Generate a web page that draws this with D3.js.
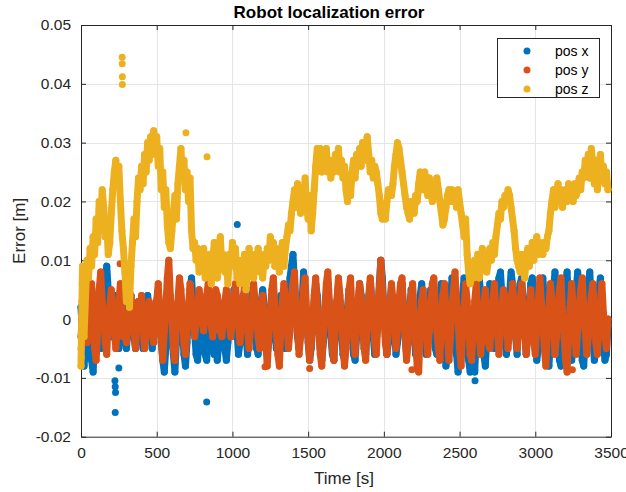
<!DOCTYPE html>
<html><head><meta charset="utf-8">
<script src="https://cdn.jsdelivr.net/npm/d3@7/dist/d3.min.js"></script>
<style>body{margin:0;background:#fff}svg{display:block}</style>
</head><body>
<svg id="chart" width="626" height="492"></svg>
<script>
// ---------- data ----------
const seriesNames = ["pos x", "pos y", "pos z"];
const seriesColors = ["#0072BD", "#D95319", "#EDB120"];
const sampleStep = 10;           // seconds between samples, starting at t = 0
const xTicks = [0, 500, 1000, 1500, 2000, 2500, 3000, 3500];
const yTicks = [-0.02, -0.01, 0, 0.01, 0.02, 0.03, 0.04, 0.05];
const yTickLabels = ["-0.02", "-0.01", "0", "0.01", "0.02", "0.03", "0.04", "0.05"];

// errors in millimetres, one value every 10 s
const posX = [
  2,-3,-8,-5,0,3,-2,-7,-9,-4,  1,4,-1,-5,-3,3,7,9,5,1,
  -3,2,4,0,-4,-5,-1,3,1,-3,  -5,-2,2,4,0,-3,-5,-1,3,2,
  -2,-5,-3,1,4,2,-2,-5,-3,1,  3,5,1,-4,-7,-9,-5,0,4,2,
  -2,-6,-9,-4,1,5,3,-2,-6,-8,  -4,1,5,7,3,-2,-6,-7,-3,2,
  -2,-4,-6,-7,-3,0,2,-3,-6,-5,  -7,-4,-1,1,-2,-5,-7,-4,0,-3,
  1,5,3,-2,-6,-4,0,4,2,-3,  -6,-3,1,5,3,-2,-5,-6,-1,3,
  5,2,-3,-6,-4,0,4,3,-1,-5,  -3,1,4,2,-2,-5,-1,3,7,9,
  11,6,1,-3,-5,-2,3,8,5,0,  -4,-7,-5,-1,3,6,4,-1,-5,-7,
  -4,0,4,6,2,-3,-6,-7,-2,3,  6,3,-2,-6,-7,-3,2,5,3,-2,
  -6,-7,-3,2,6,4,-1,-5,-6,-2,  3,6,2,-3,-6,-4,1,6,10,7,
  2,-3,-6,-4,1,5,3,-2,-6,-4,  0,4,6,2,-3,-6,-4,1,5,3,
  -2,-6,-4,0,4,6,2,-3,-6,-2,  2,5,3,-2,-5,-6,-1,4,6,1,
  -4,-8,-6,-1,3,7,4,-2,-6,-9,  -5,0,4,7,3,-3,-7,-9,-4,1,
  -9,-3,3,7,4,-1,-6,-8,-3,2,  6,3,0,-5,-2,4,7,8,4,1,
  -4,-6,-1,4,8,6,2,-3,-6,3,  6,7,3,-2,-6,-3,2,6,7,4,
  -3,-7,-5,0,4,7,3,-2,-6,-8,  -4,1,5,8,4,-2,-7,-8,-3,2,
  6,8,3,-3,-7,-5,0,5,8,4,  -2,-7,-8,-3,2,6,8,3,-3,-7,
  -5,0,5,7,2,-4,-7,-6,-1
];
const posY = [
  -3,1,-1,2,-4,-2,3,6,1,-5,  -7,-2,5,8,3,1,-4,-6,0,2,
  5,1,-2,-5,-1,3,6,2,-3,0,  -4,-1,2,4,1,-2,-5,0,3,1,
  4,-2,-5,-3,1,3,0,-1,-4,2,  3,6,1,-3,-7,-2,2,7,10,4,
  0,-5,-7,-1,3,7,5,1,-4,-6,  -1,2,6,3,0,-3,-1,2,5,3,
  0,-2,1,4,6,3,-1,-3,1,5,  4,2,-2,-3,0,3,5,1,-1,-3,
  1,4,6,2,-1,-4,0,3,6,2,  -2,-5,-1,2,6,3,0,-3,-5,1,
  4,0,-4,-8,-3,1,5,7,2,-2,  -6,-8,-1,3,6,3,-1,-5,-2,4,
  6,8,2,-2,-6,-3,1,5,7,1,  -3,-7,-4,0,4,7,2,-2,-6,-8,
  -3,2,6,8,3,-1,-5,-7,-1,3,  7,4,0,-4,-8,-5,0,5,7,1,
  -3,-6,-1,3,6,3,-1,-5,-7,0,  4,7,4,0,-4,-6,-1,5,10,5,
  1,-4,-6,-1,3,6,3,-1,-5,-2,  3,6,7,1,-3,-7,-4,1,4,6,
  1,-4,-8,-9,-2,3,5,2,-2,-6,  -2,2,6,7,2,-2,-5,-7,0,4,
  6,1,-3,-7,-3,2,5,8,3,0,  -5,-8,-2,2,6,3,-1,-6,-7,-1,
  3,6,1,-3,-6,-1,2,5,0,-4,  -5,0,3,6,1,-2,-6,-2,2,5,
  4,0,-5,-2,2,6,2,-2,-5,0,  3,6,1,-3,-6,-1,2,5,0,-4,
  -6,-1,3,7,3,-1,-5,-8,-2,2,  6,3,-1,-6,-3,2,5,7,1,-3,
  -7,-9,-3,2,6,2,-2,-6,-2,2,  5,7,2,-2,-6,-3,1,4,6,1,
  -4,-6,-1,3,6,1,-3,-5,0
];
const posZ = [
  -8,9,-3,4,10, 7,12,9,14,11, 17,13,20,16,22, 19,14,16,11,13,
  18,22,25,27,23, 26,20,15,12,8, 3,6,2,9,13, 17,14,20,24,22,
  26,23,28,25,30, 27,31,28,32,29, 31,26,29,22,25, 19,22,16,13,12,
  15,18,21,17,23, 26,29,24,27,22, 25,20,24,15,12, 13,10,12,8,11,
  9,12,7,10,8, 11,6,10,13,9, 7,12,14,9,11, 8,10,6,11,9,
  13,10,12,7,9, 6,10,8,11,5, 9,12,8,10,7, 11,9,12,8,10,
  7,11,9,12,10, 14,11,13,9,12, 10,8,11,13,9, 12,14,16,15,18,
  20,22,19,23,21, 18,22,20,24,19, 17,21,15,18,22, 26,29,27,29,25,
  28,26,29,25,27, 24,27,25,28,26, 29,25,27,24,26, 22,20,24,21,25,
  27,24,28,26,29, 26,30,27,29,31, 28,25,27,24,26, 25,23,21,18,17,
  19,17,20,22,21, 21,23,26,28,30, 29,27,25,23,21, 19,18,17,20,19,
  18,21,20,23,25, 24,22,25,23,21, 24,22,20,23,21, 24,22,20,18,16,
  17,19,21,22,20, 22,20,21,19,22, 20,18,16,14,17, 11,8,6,9,7,
  10,8,11,7,9, 12,9,11,8,10, 12,10,13,11,14, 16,18,17,20,19,
  21,20,22,21,19, 17,15,12,10,9, 8,11,9,7,10, 12,9,11,13,10,
  12,14,11,13,12, 11,13,12,14,15, 18,20,22,19,21, 23,20,22,19,21,
  22,20,23,21,22, 20,23,21,22,24, 22,25,24,27,26, 28,24,29,26,23,
  27,22,25,28,24, 26,23,25,22
];
// isolated samples: [time s, error mm]
const posXExtra = [[224,-10.5],[226,-11.5],[228,-12.5],[226,-15.9],[250,-8.3],[830,-14.1],[1032,16.1],[2600,-8.6],[2602,-10.5]];
const posYExtra = [[258,9.4],[1215,-8.1],[1510,-8.4],[2185,-8.6],[3245,-8.6]];
const posZExtra = [[0,-5],[3,-1],[5,3],[8,6],[2,-6.5],[5,0.5],[272,44.5],[272,43.4],[273,41.2],[273,39.9],[693,31.7],[832,27.6]];

// ---------- layout ----------
const W = 626, H = 492;
const plot = {left: 81, right: 611, top: 25, bottom: 436.7};
const axisColor = "#262626", gridColor = "#e5e5e5";
const font = "'Liberation Sans', Arial, Helvetica, sans-serif";
const markerR = 3.5;
const mmToM = v => v / 1000;

const svg = d3.select("#chart");
svg.append("rect").attr("width", W).attr("height", H).attr("fill", "#fff");

const x = d3.scaleLinear().domain([0, 3500]).range([plot.left, plot.right]);
const y = d3.scaleLinear().domain([-0.02, 0.05]).range([plot.bottom, plot.top]);

// grid
const grid = svg.append("g").attr("stroke", gridColor).attr("stroke-width", 1);
grid.selectAll(".gx").data(xTicks.slice(1, -1)).join("line")
  .attr("x1", d => Math.round(x(d)) + 0.5).attr("x2", d => Math.round(x(d)) + 0.5)
  .attr("y1", plot.top).attr("y2", plot.bottom);
grid.selectAll(".gy").data(yTicks.slice(1, -1)).join("line")
  .attr("y1", d => Math.round(y(d)) + 0.5).attr("y2", d => Math.round(y(d)) + 0.5)
  .attr("x1", plot.left).attr("x2", plot.right);

// axes (ticks inward, box on)
const tickLen = 5;
const ax = svg.append("g");
ax.append("g").attr("transform", `translate(0,${plot.bottom})`)
  .call(d3.axisBottom(x).tickValues(xTicks).tickSizeInner(-tickLen).tickSizeOuter(0).tickPadding(10)
    .tickFormat(d3.format("d")));
ax.append("g").attr("transform", `translate(0,${plot.top})`)
  .call(d3.axisTop(x).tickValues(xTicks).tickSizeInner(-tickLen).tickSizeOuter(0).tickFormat(""));
ax.append("g").attr("transform", `translate(${plot.left},0)`)
  .call(d3.axisLeft(y).tickValues(yTicks).tickSizeInner(-tickLen).tickSizeOuter(0).tickPadding(10)
    .tickFormat((d, i) => yTickLabels[i]));
ax.append("g").attr("transform", `translate(${plot.right},0)`)
  .call(d3.axisRight(y).tickValues(yTicks).tickSizeInner(-tickLen).tickSizeOuter(0).tickFormat(""));
ax.selectAll("path.domain").attr("stroke", axisColor);
ax.selectAll(".tick line").attr("stroke", axisColor);
ax.selectAll(".tick text").attr("fill", axisColor).style("font-family", font).style("font-size", "15.5px");

// points: the dense scatter is drawn as markers plus a marker-wide trace between consecutive samples
const allSeries = [
  {vals: posX, extra: posXExtra},
  {vals: posY, extra: posYExtra},
  {vals: posZ, extra: posZExtra}
];
const trace = d3.line().x(d => x(d[0])).y(d => y(mmToM(d[1])));
const pts = svg.append("g");
allSeries.forEach((s, i) => {
  const samples = s.vals.map((v, k) => [k * sampleStep, v]);
  const g = pts.append("g");
  g.append("path").datum(samples).attr("d", trace)
    .attr("fill", "none").attr("stroke", seriesColors[i]).attr("stroke-width", markerR * 2)
    .attr("stroke-linecap", "round").attr("stroke-linejoin", "round");
  g.selectAll("circle").data(samples.concat(s.extra)).join("circle")
    .attr("fill", seriesColors[i])
    .attr("cx", d => x(d[0])).attr("cy", d => y(mmToM(d[1]))).attr("r", markerR);
});

// title and labels
svg.append("text").attr("x", 329).attr("y", 17.5).attr("text-anchor", "middle")
  .style("font-family", font).style("font-size", "17px").style("font-weight", "bold")
  .attr("fill", "#000").text("Robot localization error");
svg.append("text").attr("x", 344).attr("y", 484).attr("text-anchor", "middle")
  .style("font-family", font).style("font-size", "17px").attr("fill", axisColor).text("Time [s]");
svg.append("text").attr("transform", `translate(25,${(plot.top + plot.bottom) / 2}) rotate(-90)`)
  .attr("text-anchor", "middle")
  .style("font-family", font).style("font-size", "17px").attr("fill", axisColor).text("Error [m]");

// legend
const lg = svg.append("g");
lg.append("rect").attr("x", 497.5).attr("y", 38.5).attr("width", 102).attr("height", 59)
  .attr("fill", "#fff").attr("stroke", axisColor).attr("stroke-width", 1);
seriesNames.forEach((n, i) => {
  const yy = 51 + i * 19;
  lg.append("circle").attr("cx", 527).attr("cy", yy).attr("r", markerR).attr("fill", seriesColors[i]);
  lg.append("text").attr("x", 555).attr("y", yy + 5).style("font-family", font).style("font-size", "14px")
    .attr("fill", "#000").text(n);
});
</script>
</body></html>
